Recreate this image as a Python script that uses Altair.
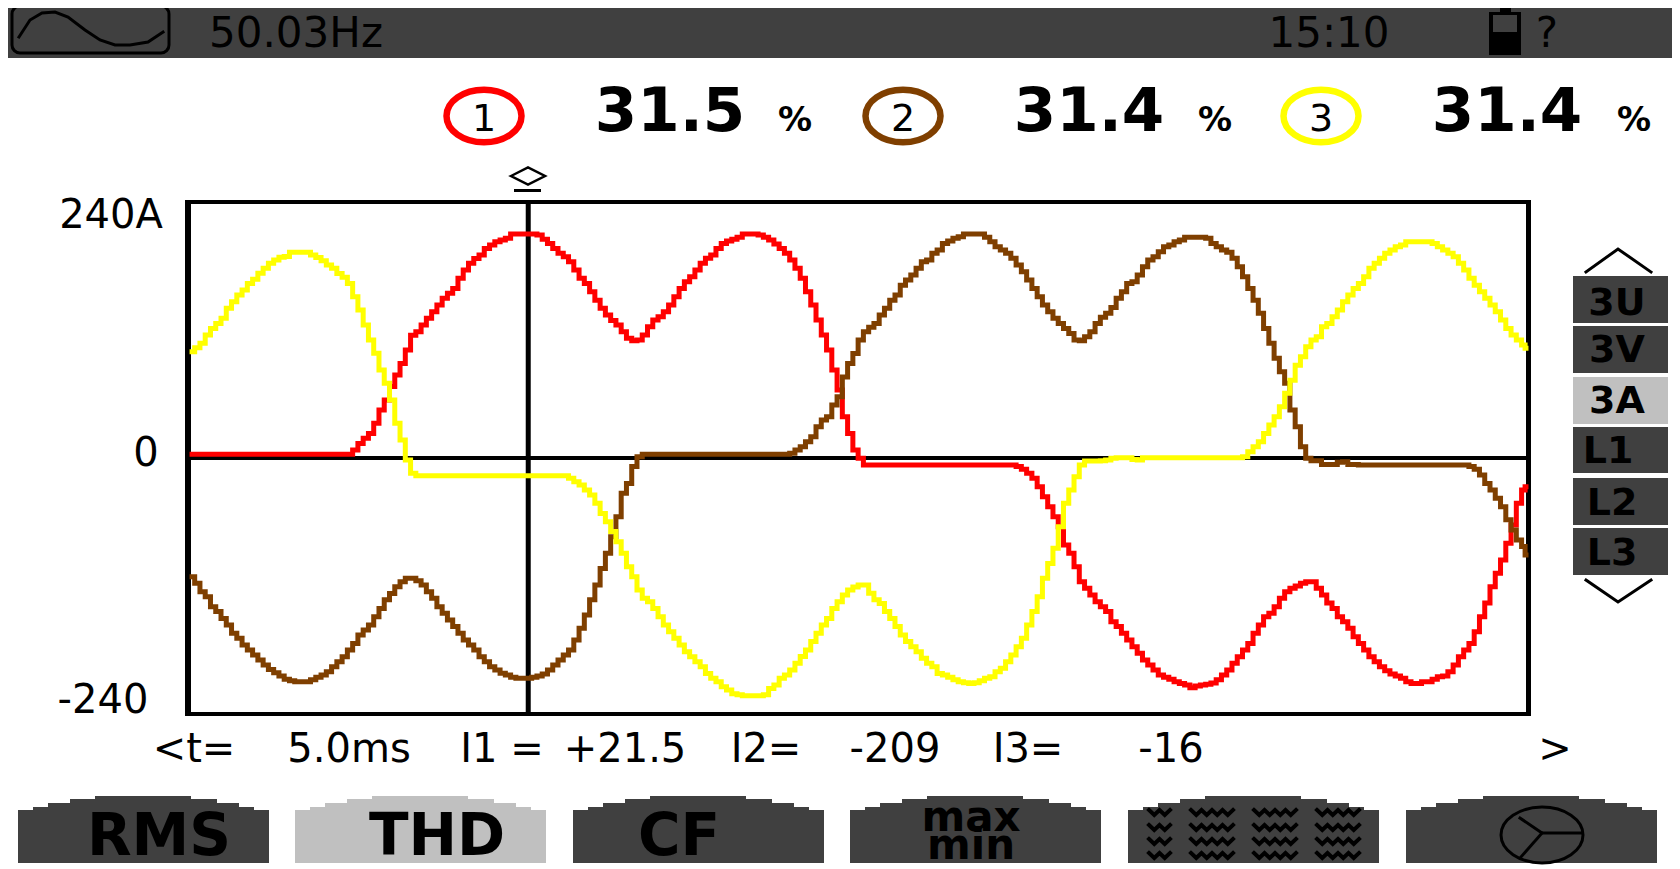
import altair as alt
import pandas as pd

# ---------- curve readings: one value (A) per sampled display column ----------
# "even" columns are every second display column, "odd" the ones in between
T_MS = [0.02 + 0.078 * j for j in range(254)] + [19.78]

RED_EVEN = [3.4]*16 + [13.7,23,45,67,88.7,115,124.7,137,149.7,159,176.2,187,196.5,202.8,205.9,210,210,209,201,191.9,184,168.4,155.9,140.3,129,118.4,110,115.3,129.4,137.2,151.2,165.3,176.2,187.2,196.5,203.4,206.9,210,209,204.3,196.5,185.6,168.4,143.4,115.3,82.5,38.7,7.5] + [-6.6]*15 + [-10.6,-19,-36.3,-55,-81.6,-101.9,-122,-134.7,-144,-158,-170.6,-183,-194,-203.5,-207.5,-211.3,-215.3,-212.8,-211,-203.5,-192.5,-180,-164.4,-148.8,-139.4,-125.3,-120,-116,-122,-136,-148.8,-159.7,-173.8,-186.3,-195.6,-202.5,-206.6,-211.3,-209.7,-207.5,-204.4,-194,-180,-162.8,-136,-108,-80,-42.5,-26.9]
RED_ODD = [3.4]*15 + [7.5,18.4,32.5,54.4,77.8,101.2,118.4,130.9,143.4,154.4,168.4,182.5,190.3,199.7,204.4,210,210,210,205,196.5,188.7,176.2,163.7,148,134,124.7,112.2,110.6,123,132.5,143.4,159,170,182.5,190.3,201,205,210,210,206.9,200.6,191.9,177.8,155.9,129.4,101.2,63.7,23,-0.3] + [-6.6]*14 + [-8,-14.4,-26.9,-45.6,-64.4,-89.4,-116,-128.5,-139.4,-153.5,-164.4,-176.9,-189.4,-198.8,-205.6,-209.7,-212.8,-213.8,-212.2,-208,-198.8,-186.3,-173.8,-156.6,-145.6,-131.6,-122,-117.5,-116,-128.5,-141,-153.5,-167.5,-180,-191,-199.4,-204.4,-209.7,-211.3,-209.7,-205,-200.3,-186.3,-173.8,-148.8,-120.6,-95.7,-62.8,-30]

BROWN_EVEN = [-111.3,-125.3,-139.4,-150.4,-164.4,-175.3,-184.7,-194,-201.3,-207.5,-209.7,-209.7,-205.6,-200.3,-191,-180,-166,-156.6,-141,-127,-116,-112.8,-119,-131.6,-145.6,-158,-170.6,-180,-191,-198.8,-203.5,-206.6,-206.6,-204.4,-198.8,-189.4,-180,-159.7,-133,-103.5,-73.8,-33,-8] + [3.4]*14 + [4.4,10.6,20,35.6,49.7,76,98,118.4,126.2,140.3,152.8,166.9,177.8,185.6,195,203.4,207.5,210,210,202.8,195,187.2,174.7,159,143.4,130.9,121.5,110.6,113.7,126.2,135.6,149.7,163.7,171.5,185.6,193.4,199.7,204.4,206.9,206.9,201,195,187.2,170,148,121.5,93.4,70,29.4,-0.3,-2.5,-6,-4,-6] + [-6.6]*11 + [-10.6,-23.8,-37.8,-58,-76.9,-91]
BROWN_ODD = [-117.5,-130,-144,-156.6,-169,-180,-189.4,-198.2,-204.4,-208.8,-209.7,-208,-203.5,-195.6,-186.3,-173.8,-161.3,-148.8,-133,-120.6,-112.8,-115,-125.3,-139.4,-151.9,-164.4,-175.3,-186.3,-195.6,-201.9,-205.6,-206.6,-205.6,-202.5,-194,-184.7,-170.6,-147.2,-119,-89.4,-55,-23.8,1.2] + [3.4]*14 + [7.5,15.3,29.4,38.7,57.5,88.7,110.6,122.5,134,148,162,171.5,184,191.9,201,205.9,210,210,206.9,198,191.9,180.9,166.9,151.2,137.2,126.2,116.8,110,118.4,131.9,141.2,155.9,165.3,179.3,188.7,198,202.8,206.9,206.9,205.9,198,192.8,179.3,159,135.6,107.5,80.9,45,10.6,-2.5,-6,-6,-3.5,-6] + [-6.6]*10 + [-8,-16,-30,-45.6,-67.5,-83]

YELLOW_EVEN = [99.7,107.5,121.5,131,146.5,157.5,167.5,177.8,185.6,189,192.8,192.8,188,181,173,163.7,138.7,110.6,82.5,54.4,16.9,-14.4] + [-16.6]*14 + [-19,-25.3,-34.7,-52,-69,-89.4,-111.3,-131.6,-141,-156.6,-169,-181.6,-191,-202,-209.7,-217.5,-222,-223,-223,-216,-206.6,-198.8,-186,-172,-156.6,-141,-128.5,-121,-119,-133,-144,-158,-172,-181.6,-192.5,-202,-205.6,-209.7,-211.3,-208.8,-205,-197,-184.7,-169,-144,-112.8,-84.7,-42.5,-17.5,-2.8,-2.8,-1.9,0.3,0.3,-1.9] + [0.3]*9 + [1.2,10.6,23,38.7,60.6,87,104.4,113.7,126.2,138.7,152.8,163.7,177.8,187.2,195,199.7,202.8,202.8,201,195,188.7,176.2,162,149.7,137.2,121.5,110.6,102.8]
YELLOW_ODD = [103.4,115.3,126.2,140.3,152.8,163.7,173.1,182.5,188.1,192.8,192.8,190.3,185,177.8,169.4,151.2,124.7,98.1,70,32.5,-1.9] + [-16.6]*15 + [-22.2,-30,-42.5,-59.7,-78.5,-101.9,-123.8,-134.7,-148.8,-162.8,-175.3,-186.3,-195.6,-206.6,-214.4,-221,-223,-223,-222,-212.8,-203.5,-192.5,-180,-164.4,-150.4,-134.7,-123.8,-119,-126.9,-136.3,-150.4,-166,-176.9,-187.8,-195.6,-203.5,-208,-210.6,-210.6,-206.6,-200.3,-191,-176.9,-156.6,-130,-98.8,-64.4,-30,-6.6,-2.8,-2.5,-0.3,0.3,-1.3,0.3] + [0.3]*9 + [5.9,15.3,30.9,48,73,95,110.6,123,132.5,146.5,159,170,182.5,191.9,198,202.8,202.8,202.8,198,191.9,182.5,168.4,155.9,143.4,129.4,115.3,105.9]


def columns(even, odd):
    merged = []
    for i, v in enumerate(even):
        merged.append(v)
        if i < len(odd):
            merged.append(odd[i])
    return merged


SERIES = [("red", columns(RED_EVEN, RED_ODD), "#ff0000"),
          ("brown", columns(BROWN_EVEN, BROWN_ODD), "#7f3f00"),
          ("yellow", columns(YELLOW_EVEN, YELLOW_ODD), "#ffff00")]
CURSOR_T = [5.0]
ZERO_A = [0]

# ---------- page geometry of the plot area ----------
OX, OY = 188, 202
W, H = 1340, 512
DARK, LIGHT = "#404040", "#c0c0c0"
INK = "#000000"


def P(rows, cols):
    df = pd.DataFrame(rows, columns=cols)
    for c in cols:
        if c in ("x", "x2"):
            df[c] = df[c] - OX
        if c in ("y", "y2"):
            df[c] = df[c] - OY
    return df


X = alt.X("x:Q", scale=None, axis=None)
Y = alt.Y("y:Q", scale=None, axis=None)


def boxes(rows):
    return alt.Chart(P(rows, ["x", "x2", "y", "y2", "c"])).mark_rect(strokeWidth=0).encode(
        x=X, x2="x2:Q", y=Y, y2="y2:Q", color=alt.Color("c:N", scale=None, legend=None))


def words(rows, size, bold=False, color=INK, **kw):
    return alt.Chart(P(rows, ["x", "y", "t"])).mark_text(
        font="DejaVu Sans", fontSize=size, fontWeight="bold" if bold else "normal",
        align="center", baseline="alphabetic", color=color, clip=False, **kw
    ).encode(x=X, y=Y, text="t:N")


def path(rows, width, color=INK):
    return alt.Chart(P(rows, ["g", "o", "x", "y"])).mark_line(
        strokeWidth=width, color=color, strokeCap="square", strokeJoin="miter"
    ).encode(x=X, y=Y, detail="g:N", order="o:Q")


layers = []

HEADER = [(8, 1672, 8, 58, DARK)]
SIDE_TEXT = [("3U", 1617, 315, 276, 323, DARK), ("3V", 1617, 362, 326, 373, DARK), ("3A", 1617, 413, 377, 424, LIGHT),
             ("L1", 1608, 463, 427, 473, DARK), ("L2", 1612, 515, 478, 525, DARK), ("L3", 1612, 565, 528, 575, DARK)]
side_boxes = [(1573, 1668, r[3], r[4], r[5]) for r in SIDE_TEXT]
TAB_LEFT = [18, 295, 573, 850, 1128, 1406]
TAB_FILL = [DARK, LIGHT, DARK, DARK, DARK, DARK]
tab_boxes = []
for left, fill in zip(TAB_LEFT, TAB_FILL):
    tab_boxes += [(left, left + 251, 810, 863, fill), (left + 15, left + 236, 807, 811, fill),
                  (left + 30, left + 221, 803, 808, fill), (left + 52, left + 199, 799, 804, fill),
                  (left + 77, left + 173, 796, 800, fill)]
battery = [(1500, 1511, 5, 13, INK), (1489, 1521, 12, 55, INK), (1493, 1517, 15, 32, DARK)]
frame = [(185, 191, 200, 716, INK), (1526, 1531, 200, 716, INK), (185, 1531, 200, 204, INK), (185, 1531, 712, 716, INK),
         (514, 541, 189, 192, INK)]
layers.append(boxes(HEADER + side_boxes + tab_boxes + battery + frame))

xs = alt.Scale(domain=[-0.04, 19.81], nice=False, zero=False)
ys = alt.Scale(domain=[-240, 240], nice=False, zero=False)
layers.append(alt.Chart(pd.DataFrame({"a": ZERO_A})).mark_rule(color=INK, strokeWidth=4).encode(
    y=alt.Y("a:Q", scale=ys, axis=None)))
layers.append(alt.Chart(pd.DataFrame({"t": CURSOR_T})).mark_rule(color=INK, strokeWidth=5).encode(
    x=alt.X("t:Q", scale=xs, axis=None)))

for name, aa, col in SERIES:
    d = pd.DataFrame({"t": T_MS, "a": aa})
    layers.append(alt.Chart(d).mark_line(color=col, strokeWidth=5, strokeJoin="miter", strokeCap="square",
                                         interpolate="step").encode(
        x=alt.X("t:Q", scale=xs, axis=None), y=alt.Y("a:Q", scale=ys, axis=None)))

for val, lab, cx, dy in [(240, "240A", 111, 26), (0, "0", 146, 8), (-240, "-240", 103, -1)]:
    layers.append(alt.Chart(pd.DataFrame({"a": [val], "t": [lab]})).mark_text(
        font="DejaVu Sans", fontSize=40, align="center", baseline="alphabetic", dy=dy, color=INK
    ).encode(x=alt.value(cx - OX), y=alt.Y("a:Q", scale=ys, axis=None), text="t:N"))

layers.append(words([(296, 47, "50.03Hz"), (1329, 47, "15:10"), (1547, 47, "?")], 42))
layers.append(words([(670, 131, "31.5"), (1089, 131, "31.4"), (1507, 131, "31.4")], 61, True))
layers.append(words([(795, 131, "%"), (1215, 131, "%"), (1634, 131, "%")], 34, True))
layers.append(words([(484, 131, "1"), (903, 131, "2"), (1321, 131, "3")], 38))
layers.append(words([(194, 762, "<t="), (349, 762, "5.0ms"), (502, 762, "I1 ="), (625, 762, "+21.5"),
                     (766, 762, "I2="), (895, 762, "-209"), (1028, 762, "I3="), (1171, 762, "-16"), (1555, 762, ">")], 40))
layers.append(words([(s[1], s[2], s[0]) for s in SIDE_TEXT], 38, True))
layers.append(words([(159, 855, "RMS"), (437, 855, "THD"), (679, 855, "CF")], 58, True))
layers.append(words([(971, 831, "max\nmin")], 42, True, lineBreak="\n", lineHeight=28))

for cx, col in [(484, "#ff0000"), (903, "#7f3f00"), (1321, "#ffff00")]:
    layers.append(alt.Chart(P([(cx, 116)], ["x", "y"])).mark_point(
        shape="M-1 0A1 0.7 0 1 1 1 0A1 0.7 0 1 1 -1 0Z", size=75 ** 2, stroke=col, strokeWidth=6.5,
        filled=False, opacity=1, clip=False).encode(x=X, y=Y))
layers.append(alt.Chart(P([(528, 176)], ["x", "y"])).mark_point(
    shape="M-1 0L0 -0.5L1 0L0 0.5Z", size=34 ** 2, stroke=INK, strokeWidth=2.5, filled=False, opacity=1).encode(x=X, y=Y))
layers.append(alt.Chart(P([(1542, 835)], ["x", "y"])).mark_point(
    shape="M-1 0A1 0.68 0 1 1 1 0A1 0.68 0 1 1 -1 0Z", size=82 ** 2, stroke=INK, strokeWidth=3, filled=False, opacity=1).encode(x=X, y=Y))
layers.append(alt.Chart(P([(12, 169, 6, 53)], ["x", "x2", "y", "y2"])).mark_rect(
    fill=None, stroke=INK, strokeWidth=3, cornerRadius=8).encode(x=X, x2="x2:Q", y=Y, y2="y2:Q"))

paths = []
for o, (x, y) in enumerate([(19, 37), (30, 20), (42, 13), (55, 12), (68, 17), (85, 30), (100, 40), (115, 45), (130, 45), (148, 42), (163, 32)]):
    paths.append(("wave", o, x, y))
for o, (x, y) in enumerate([(1586, 272), (1618, 249), (1651, 272)]):
    paths.append(("up", o, x, y))
for o, (x, y) in enumerate([(1586, 580), (1618, 602), (1651, 580)]):
    paths.append(("down", o, x, y))
for o, (x, y) in enumerate([(1520, 818), (1542, 833), (1582, 833)]):
    paths.append(("y1", o, x, y))
for o, (x, y) in enumerate([(1542, 833), (1520, 858)]):
    paths.append(("y2", o, x, y))
layers.append(path(paths, 3))

zig = []
for cl, cr in [(1149, 1170), (1191, 1233), (1254, 1296), (1317, 1359)]:
    for rt in [807, 822, 836, 850]:
        x, o, up = cl, 0, True
        while x <= cr:
            zig.append((f"{cl}-{rt}", o, x, rt + (3 if up else 8)))
            x += 5.25
            o += 1
            up = not up
layers.append(path(zig, 4))

TOTAL_W, TOTAL_H = 1664, 861
chart = alt.layer(*layers).properties(
    width=W, height=H,
    padding={"left": OX - 8, "top": OY - 8, "right": TOTAL_W - (OX - 8) - W, "bottom": TOTAL_H - (OY - 8) - H},
    autosize=alt.AutoSizeParams(type="none"), background="#ffffff"
).configure_view(stroke=None)

chart.save("out.html", embed_options={"renderer": "svg", "actions": False})
